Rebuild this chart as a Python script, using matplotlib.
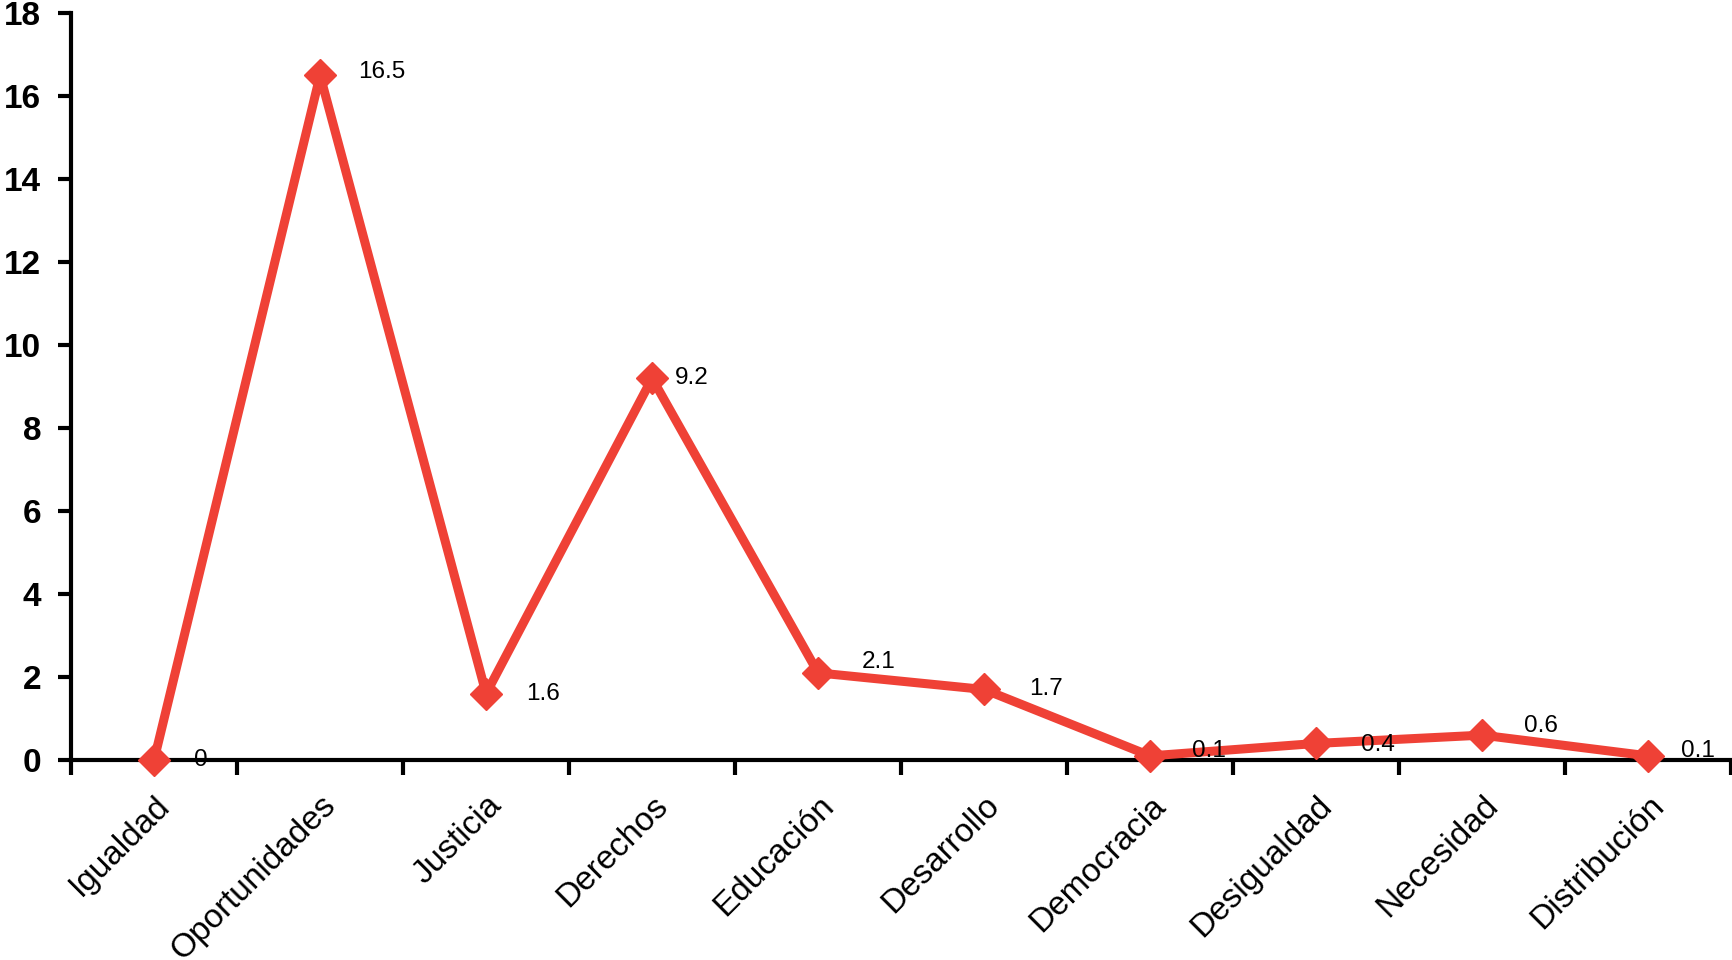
import matplotlib
matplotlib.use("Agg")
import matplotlib.pyplot as plt

categories = ["Igualdad", "Oportunidades", "Justicia", "Derechos", "Educación",
              "Desarrollo", "Democracia", "Desigualdad", "Necesidad", "Distribución"]
values = [0, 16.5, 1.6, 9.2, 2.1, 1.7, 0.1, 0.4, 0.6, 0.1]
value_labels = ["0", "16.5", "1.6", "9.2", "2.1", "1.7", "0.1", "0.4", "0.6", "0.1"]
y_ticks = [0, 2, 4, 6, 8, 10, 12, 14, 16, 18]

# label offsets in pixels (dx, dy)
label_offsets = [(40, 0), (38, 3), (40, 0), (23, 0), (44, 11),
                 (45, 0), (42, 5), (45, -2), (42, 9), (33, 5)]

plt.rcParams['font.family'] = ['Liberation Sans', 'DejaVu Sans']

red = '#EF4136'

fig = plt.figure(figsize=(17.33, 9.6), dpi=100)
ax = fig.add_axes([0.041, 0.2083, 0.958, 0.778])

x = list(range(len(categories)))
ax.plot(x, values, color=red, linewidth=6.5, marker='D', markersize=16,
        markeredgewidth=1, markeredgecolor=red, clip_on=False, zorder=3)

for i, (v, lab) in enumerate(zip(values, value_labels)):
    dx, dy = label_offsets[i]
    ax.annotate(lab, (i, v), xytext=(dx * 0.72, dy * 0.72), textcoords='offset points',
                ha='left', va='center', fontsize=17.5, color='black', zorder=4)

ax.set_xlim(-0.5, len(categories) - 0.5)
ax.set_ylim(0, 18)
ax.set_yticks(y_ticks)
ax.set_yticklabels([str(t) for t in y_ticks], fontsize=24, fontweight='bold')

ax.set_xticks(x)
ax.set_xticklabels(categories, fontsize=24, rotation=45, ha='right', va='top',
                   rotation_mode='anchor')
ax.set_xticks([i - 0.5 for i in range(len(categories) + 1)], minor=True)
ax.tick_params(axis='x', which='major', length=0, pad=21.5)
ax.tick_params(axis='x', which='minor', length=11, width=3, direction='out')
ax.tick_params(axis='y', length=9.5, width=3, direction='out', pad=12)

for s in ['top', 'right']:
    ax.spines[s].set_visible(False)
for s in ['left', 'bottom']:
    ax.spines[s].set_linewidth(3)

fig.savefig("out.png", dpi=100)
